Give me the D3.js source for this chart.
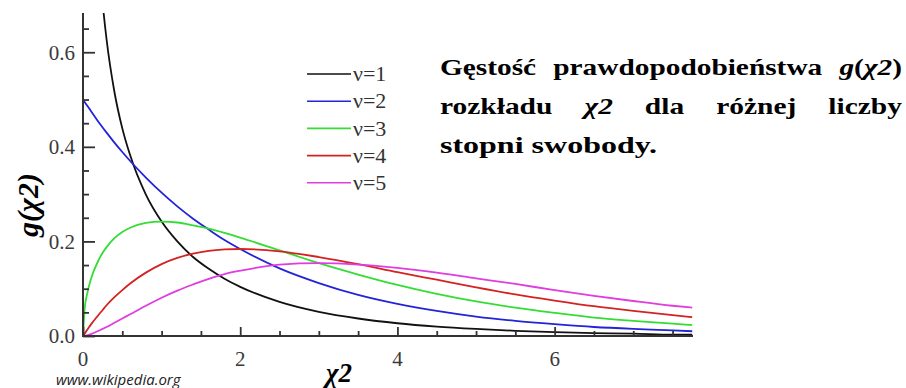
<!DOCTYPE html>
<html>
<head>
<meta charset="utf-8">
<script src="https://cdn.jsdelivr.net/npm/d3@7"></script>
<style>
  html, body { margin: 0; padding: 0; background: #fff; }
  svg { display: block; }
</style>
</head>
<body>
<svg id="chart" width="906" height="388"></svg>
<script>
// ---- data ----
const xs = [0,0.02,0.05,0.1,0.2,0.25,0.3,0.4,0.5,0.6,0.8,1.0,1.2,1.4,1.6,1.8,2.0,2.5,3.0,3.5,4.0,4.5,5.0,5.5,6.0,6.5,7.0,7.5,7.75];
const nu1 = [null,null,null,null,0.807,0.704,0.627,0.516,0.439,0.382,0.299,0.242,0.200,0.167,0.142,0.121,0.104,0.072,0.051,0.037,0.027,0.020,0.015,0.011,0.008,0.006,0.005,0.003,0.003];
const nu2 = [0.500,0.495,0.488,0.476,0.452,0.441,0.430,0.409,0.389,0.370,0.335,0.303,0.274,0.248,0.225,0.203,0.184,0.143,0.112,0.087,0.068,0.053,0.041,0.032,0.025,0.019,0.015,0.012,0.010];
const nu3 = [0,0.056,0.087,0.120,0.161,0.176,0.188,0.207,0.220,0.229,0.239,0.242,0.240,0.234,0.227,0.218,0.208,0.181,0.154,0.130,0.108,0.089,0.073,0.060,0.049,0.039,0.032,0.026,0.023];
const nu4 = [0,0.005,0.012,0.024,0.045,0.055,0.065,0.082,0.097,0.111,0.134,0.152,0.165,0.174,0.180,0.183,0.184,0.179,0.167,0.152,0.135,0.119,0.103,0.088,0.075,0.063,0.053,0.044,0.040];
const nu5 = [0,0.0004,0.0015,0.004,0.011,0.015,0.019,0.028,0.037,0.046,0.064,0.081,0.096,0.109,0.121,0.131,0.138,0.151,0.154,0.151,0.144,0.134,0.122,0.110,0.097,0.085,0.074,0.064,0.060];
const seriesNames = ["\u03bd=1","\u03bd=2","\u03bd=3","\u03bd=4","\u03bd=5"];
const seriesColors = ["#111111","#2323d8","#33dd33","#d42222","#e03ce0"];
const xTickValues = [0,2,4,6];
const xTickLabels = ["0","2","4","6"];
const yTickValues = [0,0.2,0.4,0.6];
const yTickLabels = ["0.0","0.2","0.4","0.6"];
const xMinorTicks = [0.5,1,1.5,2.5,3,3.5,4.5,5,5.5,6.5,7,7.5];
const yMinorTicks = [0.05,0.1,0.15,0.25,0.3,0.35,0.45,0.5,0.55,0.65];

// ---- layout ----
const svg = d3.select("#chart");
const x = d3.scaleLinear().domain([0, 7.76]).range([83, 693]);
const y = d3.scaleLinear().domain([0, 0.683]).range([336, 13]);
const axisColor = "#333";
const serif = "'Liberation Serif'";

svg.append("defs").append("clipPath").attr("id","plotclip")
  .append("rect").attr("x", x(0)).attr("y", y(0.683)).attr("width", x(7.76)-x(0)).attr("height", y(0)-y(0.683)+2);

// curves
const allSeries = [nu1,nu2,nu3,nu4,nu5];
const line = d3.line()
  .defined(d => d[1] !== null)
  .x(d => x(d[0])).y(d => y(d[1]))
  .curve(d3.curveMonotoneX);
const gCurves = svg.append("g").attr("clip-path","url(#plotclip)");
allSeries.forEach((s, i) => {
  gCurves.append("path")
    .attr("d", line(xs.map((xv, j) => [xv, s[j]])))
    .attr("fill","none")
    .attr("stroke", seriesColors[i])
    .attr("stroke-width", 1.8);
});

// axes (ticks pointing inward)
const yAxisMajor = d3.axisRight(y).tickValues(yTickValues).tickSize(12).tickFormat("");
const yAxisMinor = d3.axisRight(y).tickValues(yMinorTicks).tickSize(6).tickFormat("");
const xAxisMajor = d3.axisTop(x).tickValues(xTickValues).tickSize(9).tickFormat("");
const xAxisMinor = d3.axisTop(x).tickValues(xMinorTicks).tickSize(5).tickFormat("");
function styleAxis(g) {
  g.select(".domain").remove();
  g.selectAll(".tick line").attr("stroke", axisColor).attr("stroke-width", 1.8);
}
svg.append("g").attr("transform", `translate(${x(0)},0)`).call(yAxisMajor).call(styleAxis);
svg.append("g").attr("transform", `translate(${x(0)},0)`).call(yAxisMinor).call(styleAxis);
svg.append("g").attr("transform", `translate(0,${y(0)})`).call(xAxisMajor).call(styleAxis);
svg.append("g").attr("transform", `translate(0,${y(0)})`).call(xAxisMinor).call(styleAxis);

svg.append("line").attr("x1", x(0)).attr("x2", x(0)).attr("y1", y(0.683)).attr("y2", y(0)+1)
  .attr("stroke", axisColor).attr("stroke-width", 2);
svg.append("line").attr("x1", x(0)-1).attr("x2", x(7.76)).attr("y1", y(0)).attr("y2", y(0))
  .attr("stroke", axisColor).attr("stroke-width", 2);

// tick labels
svg.append("g").selectAll("text").data(yTickValues).join("text")
  .attr("x", x(0) - 8).attr("y", d => y(d)).attr("dy","0.35em")
  .attr("text-anchor","end")
  .attr("font-family", serif).attr("font-size", 21).attr("fill", "#3a3a3a")
  .text((d,i) => yTickLabels[i]);
svg.append("g").selectAll("text").data(xTickValues).join("text")
  .attr("x", d => x(d)).attr("y", 366)
  .attr("text-anchor","middle")
  .attr("font-family", serif).attr("font-size", 21).attr("fill", "#3a3a3a")
  .text((d,i) => xTickLabels[i]);

// legend
const legend = svg.append("g");
seriesNames.forEach((name, i) => {
  const ly = 74 + i * 27.2;
  legend.append("line").attr("x1", 307).attr("x2", 351).attr("y1", ly).attr("y2", ly)
    .attr("stroke", seriesColors[i]).attr("stroke-width", 1.6);
  legend.append("text").attr("x", 353).attr("y", ly).attr("dy","0.33em")
    .attr("font-family", serif).attr("font-size", 22).attr("fill", "#333")
    .text(name);
});

// axis labels
svg.append("text")
  .attr("transform", "translate(38,205) rotate(-90)")
  .attr("text-anchor","middle")
  .attr("font-family", serif).attr("font-size", 30).attr("font-weight","bold").attr("font-style","italic")
  .attr("fill","#000")
  .text("g(\u03c72)");
svg.append("text")
  .attr("x", 339).attr("y", 382)
  .attr("text-anchor","middle")
  .attr("font-family", serif).attr("font-size", 27).attr("font-weight","bold").attr("font-style","italic")
  .attr("fill","#000")
  .text("\u03c72");
svg.append("text")
  .attr("x", 56).attr("y", 385)
  .attr("font-family", "'Open Sans'").attr("font-size", 15).attr("font-style","italic")
  .attr("fill","#222")
  .text("www.wikipedia.org");

// title (justified paragraph); target = total word width per line in the reference
const titleLines = [
  { justify: true, target: 428, words: [
      [{t:"Gęstość"}],
      [{t:"prawdopodobieństwa"}],
      [{t:"g", it:true},{t:"("},{t:"\u03c72", it:true},{t:")"}]
  ]},
  { justify: true, target: 334, words: [
      [{t:"rozkładu"}],
      [{t:"\u03c72", it:true}],
      [{t:"dla"}],
      [{t:"różnej"}],
      [{t:"liczby"}]
  ]},
  { justify: false, target: 217, words: [
      [{t:"stopni"}],
      [{t:"swobody."}]
  ]}
];
const tx0 = 440, tx1 = 902, tFont = 24;
const titleG = svg.append("g");
titleLines.forEach((ln, li) => {
  const by = 75 + li * 39;
  const nodes = ln.words.map(w => {
    const t = titleG.append("text")
      .attr("font-family", serif).attr("font-size", tFont).attr("font-weight","bold").attr("fill","#000");
    w.forEach(seg => {
      const ts = t.append("tspan").text(seg.t);
      if (seg.it) ts.attr("font-style","italic");
    });
    return t;
  });
  const nat = nodes.map(n => n.node().getComputedTextLength());
  const space = tFont * 0.25;
  const natTotal = ln.justify ? d3.sum(nat) : d3.sum(nat) + space * (nodes.length - 1);
  const sx = ln.target / natTotal;
  const w = nat.map(v => v * sx);
  const gap = ln.justify ? (tx1 - tx0 - d3.sum(w)) / (nodes.length - 1) : space * sx;
  let cx = tx0;
  nodes.forEach((n, i) => {
    n.attr("transform", `translate(${cx},${by}) scale(${sx},1)`);
    cx += w[i] + gap;
  });
});
</script>
</body>
</html>
